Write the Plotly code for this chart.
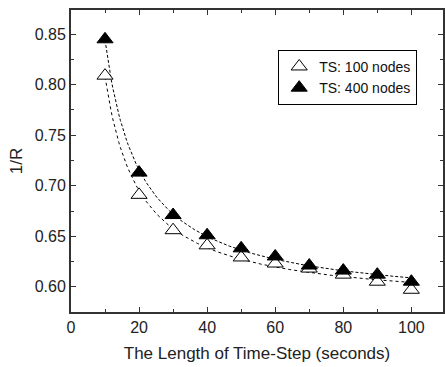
import numpy as np
import plotly.graph_objects as go

time_step = [10, 20, 30, 40, 50, 60, 70, 80, 90, 100]
ts100 = [0.809, 0.691, 0.656, 0.641, 0.629, 0.623, 0.618, 0.612, 0.605, 0.597]
ts400 = [0.845, 0.713, 0.671, 0.651, 0.638, 0.630, 0.621, 0.616, 0.612, 0.605]


def fit_curve(x, y):
    x = np.asarray(x, float)
    y = np.asarray(y, float)
    best = None
    for c in np.linspace(0.3, 3.0, 271):
        A = np.column_stack([np.ones_like(x), x ** (-c)])
        coef, *_ = np.linalg.lstsq(A, y, rcond=None)
        err = np.sum((A @ coef - y) ** 2)
        if best is None or err < best[0]:
            best = (err, c, coef)
    _, c, coef = best
    xs = np.linspace(x.min(), x.max(), 200)
    return xs, coef[0] + coef[1] * xs ** (-c)


FONT = "Liberation Sans, Arial"

fig = go.Figure()
xs1, ys1 = fit_curve(time_step, ts100)
xs2, ys2 = fit_curve(time_step, ts400)
fig.add_trace(go.Scatter(x=xs1, y=ys1, mode="lines", showlegend=False,
                         line=dict(color="black", width=1, dash="dot")))
fig.add_trace(go.Scatter(x=xs2, y=ys2, mode="lines", showlegend=False,
                         line=dict(color="black", width=1, dash="3px,2px")))
fig.add_trace(go.Scatter(x=time_step, y=ts100, mode="markers", name="TS: 100 nodes",
                         marker=dict(symbol="triangle-up", size=14, color="white",
                                     line=dict(color="black", width=1))))
fig.add_trace(go.Scatter(x=time_step, y=ts400, mode="markers", name="TS: 400 nodes",
                         marker=dict(symbol="triangle-up", size=14, color="black",
                                     line=dict(color="black", width=1))))

axis_common = dict(showline=True, linecolor="#333", linewidth=2, mirror="ticks",
                   ticks="inside", ticklen=5, tickwidth=1, tickcolor="#333",
                   showgrid=False, zeroline=False,
                   tickfont=dict(family=FONT, size=16, color="#222"))

fig.update_xaxes(range=[0, 109.3], dtick=20, tick0=0,
                 minor=dict(ticks="inside", ticklen=3, dtick=10, tickcolor="#333"),
                 title=dict(text="The Length of Time-Step (seconds)", standoff=12,
                            font=dict(family=FONT, size=17, color="#222")),
                 **axis_common)
fig.update_yaxes(range=[0.575, 0.874], dtick=0.05, tick0=0.6, tickformat=".2f",
                 minor=dict(ticks="inside", ticklen=3, dtick=0.025, tickcolor="#333"),
                 title=dict(text="1/R", standoff=8,
                            font=dict(family=FONT, size=17, color="#222")),
                 **axis_common)

fig.update_layout(
    width=445, height=367,
    margin=dict(l=71, r=0, t=10, b=55),
    plot_bgcolor="white", paper_bgcolor="white",
    legend=dict(x=0.557, y=0.868, xanchor="left", yanchor="top",
                bordercolor="black", borderwidth=1, bgcolor="white",
                font=dict(family=FONT, size=14, color="#111"),
                itemsizing="trace", itemwidth=30, tracegroupgap=0),
)

fig.write_html("out.html")
